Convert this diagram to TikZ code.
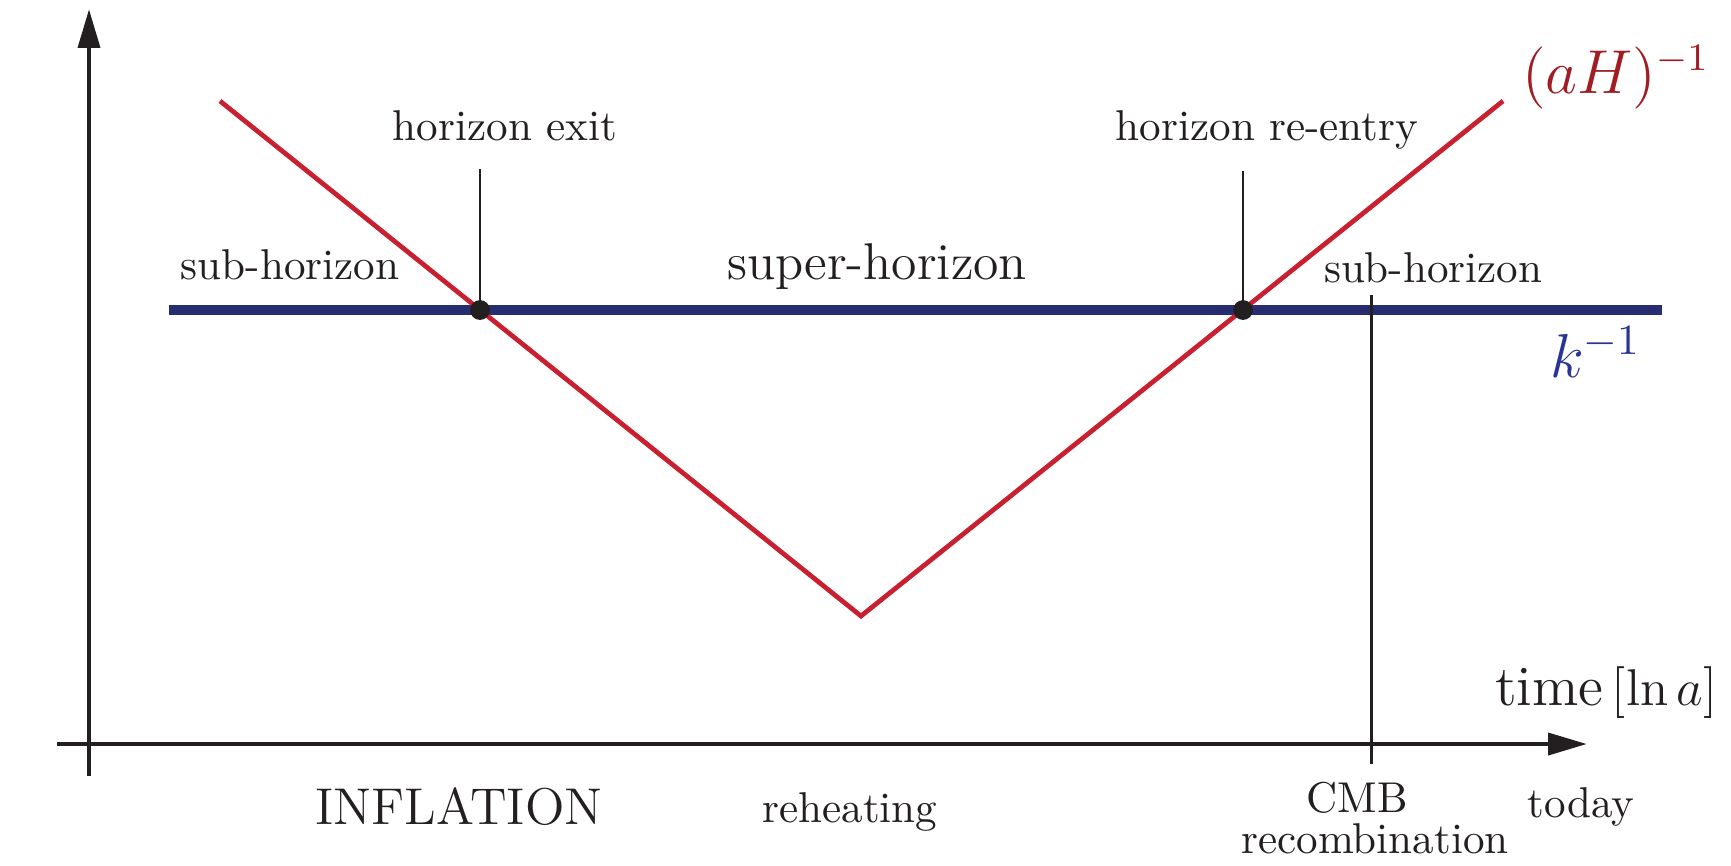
\documentclass[tikz,border=0pt]{standalone}
\usetikzlibrary{arrows.meta}
\definecolor{curvered}{RGB}{200,32,48}
\definecolor{kblue}{RGB}{40,44,112}
\definecolor{klabel}{RGB}{42,52,150}
\definecolor{ahlabel}{RGB}{160,30,35}
\definecolor{ink}{RGB}{35,31,32}
\tikzset{
  axis/.style={draw=ink, line width=1.1pt, -{Triangle[length=9pt,width=5pt]}},
  marker/.style={draw=ink, line width=0.6pt},
  modeline/.style={draw=kblue, line width=2.1pt},
  hubble/.style={draw=curvered, line width=1.1pt, line join=miter},
  lbl/.style={inner sep=0pt, outer sep=0pt, text=ink, anchor=base},
  crossing/.style={circle, fill=ink, inner sep=0pt, minimum size=4.6pt}
}
\begin{document}
\begin{tikzpicture}[x=0.232pt, y=-0.232pt]
\useasboundingbox (0,0) rectangle (1731,865);
% axes
\coordinate (ybot) at (89,776);
\coordinate (ytop) at (89,9);
\coordinate (xleft) at (57,744);
\coordinate (xright) at (1587,744);
\draw[axis] (ybot) -- (ytop);
\draw[axis] (xleft) -- (xright);
% k^-1 line
\coordinate (kl) at (169,310);
\coordinate (kr) at (1662,310);
\draw[modeline] (kl) -- (kr);
% (aH)^-1 curve
\coordinate (ha) at (220,101);
\coordinate (hv) at (861,616);
\coordinate (hb) at (1503,101);
\draw[hubble] (ha) -- (hv) -- (hb);
% crossings
\node[crossing] (exit) at (480,310) {};
\node[crossing] (reentry) at (1243,310) {};
\coordinate (exittop) at (480,169);
\coordinate (reentrytop) at (1243,171);
\draw[marker] (exittop) -- (exit.center);
\draw[marker] (reentrytop) -- (reentry.center);
% CMB marker
\coordinate (cmbtop) at (1371,295);
\coordinate (cmbbot) at (1371,764);
\draw[marker, line width=0.7pt] (cmbtop) -- (cmbbot);
% labels
\node[lbl] (lexit) at (505,140) {horizon exit};
\node[lbl] (lreentry) at (1267,140) {horizon re-entry};
\node[lbl] (lsubl) at (290,279) {sub-horizon};
\node[lbl, font=\large] (lsuper) at (877,279) {super-horizon};
\node[lbl, anchor=base west] (lsubr) at (1324,282) {sub-horizon};
\node[lbl, anchor=base west, text=ahlabel, font=\fontsize{13.5}{16}\selectfont] (lah) at (1522,93) {$(aH)^{-1}$};
\node[lbl, anchor=base west, text=klabel, font=\Large] (lk) at (1550,377) {$k^{-1}$};
\node[lbl, anchor=base west, font=\fontsize{13.2}{16}\selectfont] (ltime) at (1495,705) {time$\,[\ln a]$};
\node[lbl] (ltoday) at (1581,817) {today};
\node[lbl] (lcmb) at (1357,812) {CMB};
\node[lbl] (lrec) at (1375,853) {recombination};
\node[lbl, font=\large] (linf) at (459,824) {INFLATION};
\node[lbl] (lreh) at (850,822) {reheating};
\end{tikzpicture}
\end{document}
